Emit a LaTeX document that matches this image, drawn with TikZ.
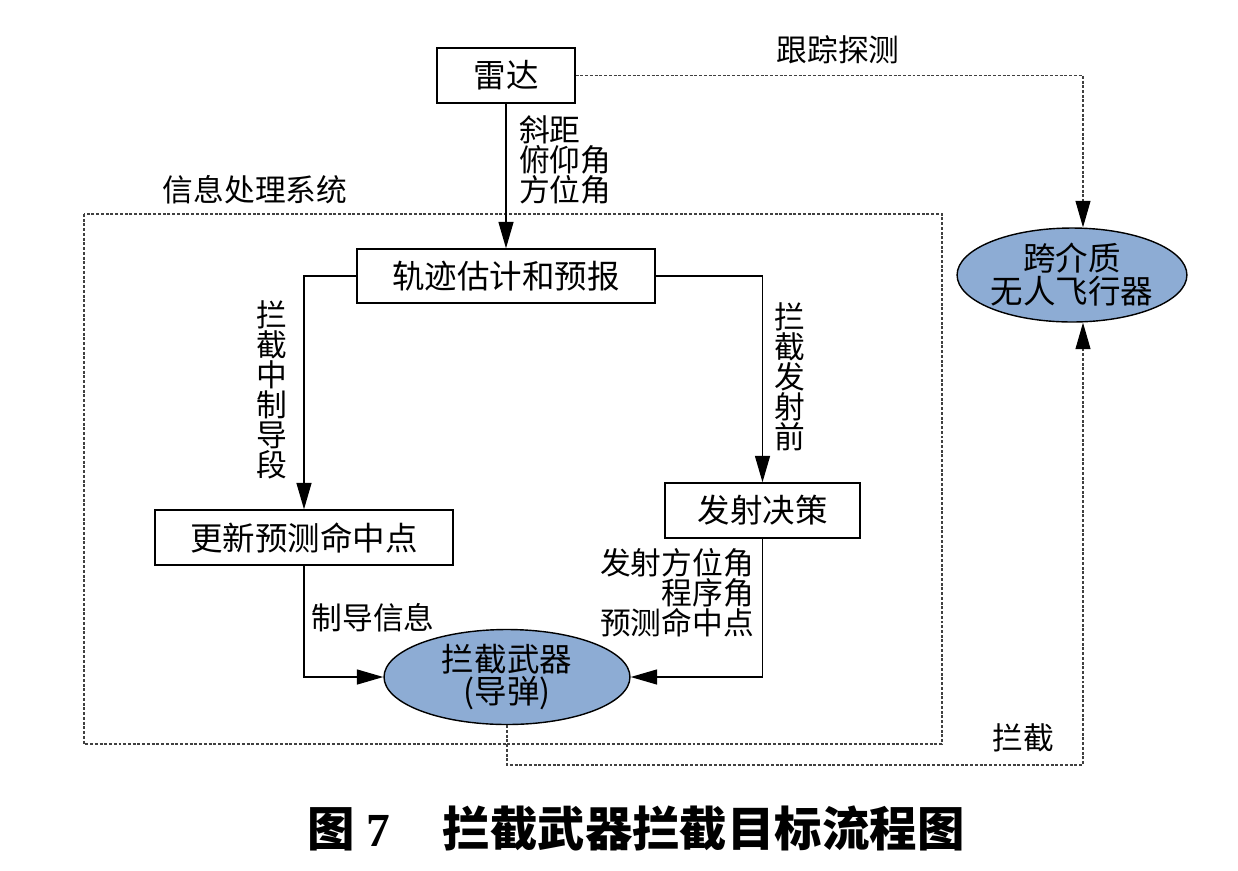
\documentclass[tikz,border=0pt]{standalone}
\usepackage{fontspec}
\setmainfont{Liberation Serif}
\newfontfamily\cjk{Noto Sans CJK SC}
\usepackage{tikz}
\usetikzlibrary{arrows.meta,positioning,shapes.geometric}
\definecolor{ellblue}{RGB}{141,172,212}

\begin{document}
\begin{tikzpicture}[x=0.02cm, y=-0.02cm,
  every node/.style={font=\cjk\fontsize{17.5}{17}\selectfont},
  blk/.style={draw, line width=0.8pt, inner sep=0pt, fill=white,
    font=\cjk\fontsize{18.5}{20}\selectfont},
  ell/.style={ellipse, draw, line width=0.8pt, fill=ellblue, inner sep=0pt,
    align=center, font=\cjk\fontsize{18.5}{18.7}\selectfont},
  tip/.style={-{Triangle[length=15pt,width=8.5pt,black]}},
  flow/.style={tip, line width=0.8pt},
  dots/.style={line width=0.6pt, black!75, dash pattern=on 1.7pt off 1pt}]
  \useasboundingbox (0,0) rectangle (1238,870);

  % Information processing frame
  \draw[dots] (84,214) rectangle (942,744);
  \node (sys) at (255,190) {信息处理系统};

  % Blocks
  \node[blk, minimum width=2.76cm, minimum height=1.1cm] (radar) at (506,75.5) {雷达};
  \node[blk, minimum width=5.96cm, minimum height=1.08cm] (track) at (506,276) {轨迹估计和预报};
  \node[blk, minimum width=5.96cm, minimum height=1.1cm] (upd) at (304,537.5) {更新预测命中点};
  \node[blk, minimum width=3.9cm, minimum height=1.1cm] (dec) at (762.5,510.5) {发射决策};

  % Ellipses
  \node[ell, minimum width=4.92cm, minimum height=1.9cm] (mis) at (507,677) {拦截武器\\(导弹)};
  \node[ell, minimum width=4.4cm, minimum height=1.88cm] (uav) at (1072,275) {跨介质\\无人飞行器};

  % Solid connectors
  \draw[flow] (radar) -- (track);
  \draw[flow] (track.west) -| (upd.north);
  \draw[flow] (track.east) -| (dec.north);
  \draw[flow] (upd.south) |- (mis.west);
  \draw[flow] (dec.south) |- (mis.east);

  % Dotted connectors to the vehicle
  \coordinate (cnr) at (1083,765);
  \draw[dots, tip] (radar.east) -| (cnr |- uav.north);
  \draw[dots, tip] (mis.south) |- (cnr) -- (cnr |- uav.south);

  % Connector labels
  \node[anchor=west, align=left] (rlab) at (513,160) {斜距\\俯仰角\\方位角};
  \node (trk) at (838,50) {跟踪探测};
  \node[align=center] (lmid) at (272,390) {拦\\截\\中\\制\\导\\段};
  \node[align=center] (lpre) at (790,377) {拦\\截\\发\\射\\前};
  \node (gui) at (373,618) {制导信息};
  \node[anchor=east, align=right] (dlab) at (760,593) {发射方位角\\程序角\\预测命中点};
  \node (icp) at (1023,738) {拦截};

  % Caption
  \node (cap) at (636,828) {\cjk\bfseries\fontsize{27}{30}\selectfont
    图\hspace{0.25em}{\rmfamily\bfseries 7}\hspace{1.1em}拦截武器拦截目标流程图};
\end{tikzpicture}
\end{document}
